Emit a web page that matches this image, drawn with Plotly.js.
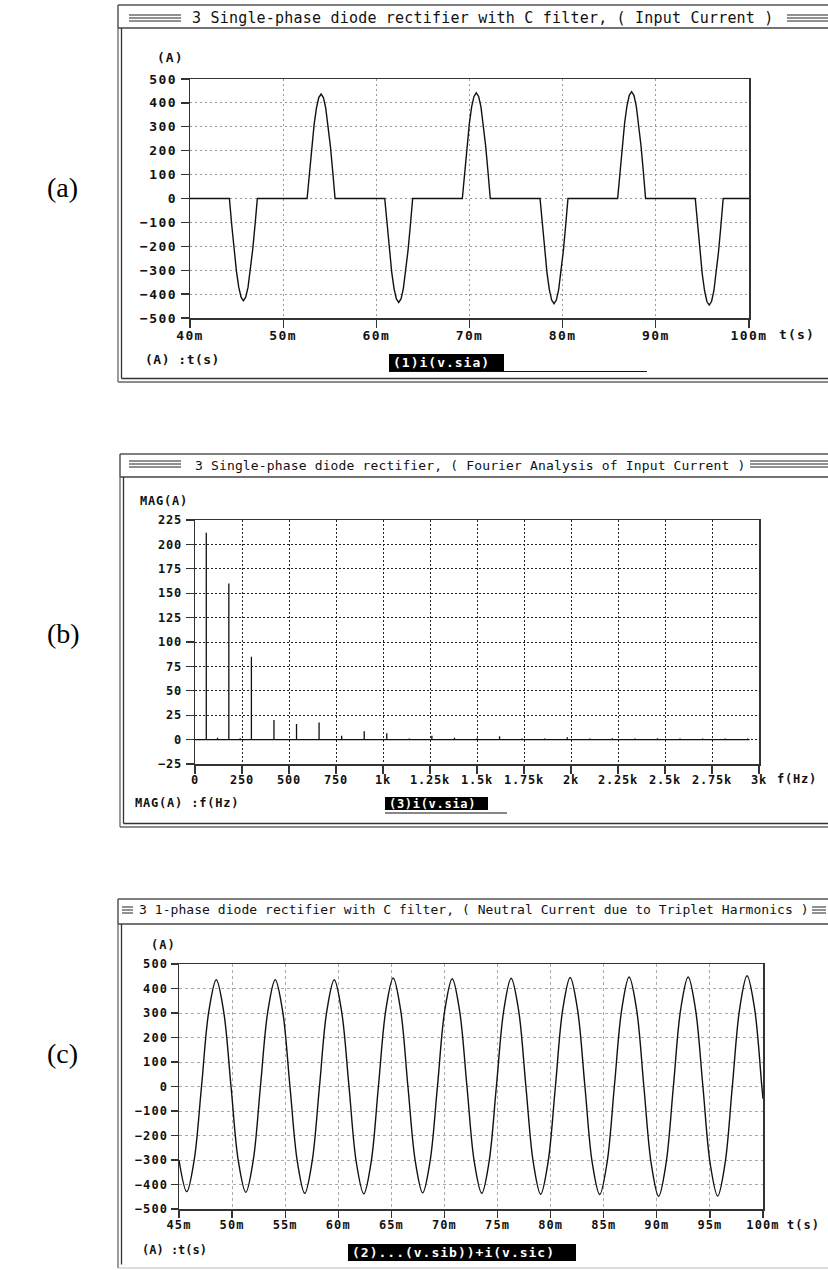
<!DOCTYPE html>
<html>
<head>
<meta charset="utf-8">
<script src="https://cdn.plot.ly/plotly-3.0.1.min.js"></script>
<style>
  html, body { margin: 0; padding: 0; background: #fff; }
  #chart { width: 828px; height: 1270px; }
  .xtick text, .ytick text { letter-spacing: 1.4px; }
  .x2tick text, .y2tick text { letter-spacing: 0.8px; }
  .x3tick text, .y3tick text { letter-spacing: 1.1px; }
</style>
</head>
<body>
<div id="chart"></div>
<script>
// (a) input current of phase a, time in ms, current in A
const tA = [40.00,
  44.23, 44.48, 44.73, 44.98, 45.23, 45.48, 45.73, 45.98, 46.23, 46.48, 46.73, 46.98, 47.23,
  52.57, 52.82, 53.07, 53.32, 53.57, 53.82, 54.07, 54.32, 54.57, 54.82, 55.07, 55.32, 55.57,
  60.90, 61.15, 61.40, 61.65, 61.90, 62.15, 62.40, 62.65, 62.90, 63.15, 63.40, 63.65, 63.90,
  69.23, 69.48, 69.73, 69.98, 70.23, 70.48, 70.73, 70.98, 71.23, 71.48, 71.73, 71.98, 72.23,
  77.57, 77.82, 78.07, 78.32, 78.57, 78.82, 79.07, 79.32, 79.57, 79.82, 80.07, 80.32, 80.57,
  85.90, 86.15, 86.40, 86.65, 86.90, 87.15, 87.40, 87.65, 87.90, 88.15, 88.40, 88.65, 88.90,
  94.23, 94.48, 94.73, 94.98, 95.23, 95.48, 95.73, 95.98, 96.23, 96.48, 96.73, 96.98, 97.23,
  100.00];
const iA = [0,
  0, -111, -214, -303, -371, -413, -428, -413, -371, -303, -214, -111, 0,
  0, 113, 219, 309, 378, 422, 437, 422, 378, 309, 219, 113, 0,
  0, -113, -218, -308, -377, -420, -435, -420, -377, -308, -218, -113, 0,
  0, 114, 221, 312, 383, 427, 442, 427, 383, 312, 221, 114, 0,
  0, -114, -220, -311, -381, -425, -440, -425, -381, -311, -220, -114, 0,
  0, 116, 224, 316, 387, 432, 447, 432, 387, 316, 224, 116, 0,
  0, -116, -223, -315, -386, -431, -446, -431, -386, -315, -223, -116, 0,
  0];

// (b) harmonic spectrum of the input current: frequency in Hz, magnitude in A
const fB = [60, 120, 180, 240, 300, 420, 540, 660, 780, 900, 1020, 1140, 1260, 1380,
  1500, 1620, 1740, 1860, 1980, 2100, 2220, 2340, 2460, 2580, 2700, 2820, 2940];
const magB = [212, 2, 160, 1.5, 85, 20, 16, 17.5, 4, 8.5, 6.5, 1, 4, 2,
  1.5, 3.5, 1, 1, 2.5, 1, 1.5, 1, 1.5, 1, 1, 1, 1];
const fTickVals = [0, 250, 500, 750, 1000, 1250, 1500, 1750, 2000, 2250, 2500, 2750, 3000];
const fTickText = ['0', '250', '500', '750', '1k', '1.25k', '1.5k', '1.75k', '2k', '2.25k', '2.5k', '2.75k', '3k'];

// (c) neutral current (sum of the three phase currents), time in ms, current in A
const tC = [45.00,
  45.73, 46.42, 47.12, 47.81, 48.51, 49.20, 49.90, 50.59,
  51.29, 51.98, 52.67, 53.37, 54.06, 54.76, 55.45, 56.15,
  56.84, 57.53, 58.23, 58.92, 59.62, 60.31, 61.01, 61.70,
  62.40, 63.09, 63.78, 64.48, 65.17, 65.87, 66.56, 67.26,
  67.95, 68.64, 69.34, 70.03, 70.73, 71.42, 72.12, 72.81,
  73.51, 74.20, 74.89, 75.59, 76.28, 76.98, 77.67, 78.37,
  79.06, 79.75, 80.45, 81.14, 81.84, 82.53, 83.23, 83.92,
  84.62, 85.31, 86.00, 86.70, 87.39, 88.09, 88.78, 89.48,
  90.17, 90.86, 91.56, 92.25, 92.95, 93.64, 94.34, 95.03,
  95.73, 96.42, 97.11, 97.81, 98.50, 99.20, 99.89,
  100.00];
const iC = [-300,
  -429, -303, 0, 308, 436, 308, 0, -305,
  -432, -305, 0, 308, 436, 308, 0, -308,
  -436, -308, 0, 308, 436, 308, 0, -310,
  -438, -310, 0, 313, 443, 313, 0, -307,
  -434, -307, 0, 311, 440, 311, 0, -308,
  -436, -308, 0, 312, 442, 312, 0, -311,
  -440, -311, 0, 315, 445, 315, 0, -312,
  -441, -312, 0, 316, 447, 316, 0, -317,
  -448, -317, 0, 316, 447, 316, 0, -316,
  -447, -316, 0, 320, 452, 320, 0,
  -50];

// ---------- page geometry helpers (pixels -> paper fractions) ----------
const W = 828, H = 1270;
const px = x => x / W;
const py = y => 1 - y / H;
const MONO = 'DejaVu Sans Mono';

function seg(x0, y0, x1, y1, color, width) {
  return { type: 'line', xref: 'paper', yref: 'paper', x0: px(x0), y0: py(y0), x1: px(x1), y1: py(y1),
    line: { color: color || '#444', width: width || 1.3 }, layer: 'above' };
}
function box(x0, y0, x1, y1, fill) {
  return { type: 'rect', xref: 'paper', yref: 'paper', x0: px(x0), y0: py(y0), x1: px(x1), y1: py(y1),
    fillcolor: fill, line: { width: 0 }, layer: 'above' };
}
function label(x, y, text, o) {
  o = o || {};
  const ls = o.ls != null ? o.ls : 0;
  return {
    xref: 'paper', yref: 'paper', x: px(x), y: py(y), showarrow: false,
    xanchor: o.xa || 'left', yanchor: 'middle',
    text: ls ? '<span style="letter-spacing:' + ls + 'px">' + text + '</span>' : text,
    font: { family: o.fam || MONO, size: o.size || 12, color: o.color || '#111', weight: o.weight || 'normal' }
  };
}

// Plot window frame: title bar, double left/bottom border, triple-line decorations
function frame(f) {
  const s = [];
  s.push(seg(f.left, f.top, W, f.top, '#555', 1.5));
  s.push(seg(f.left, f.top, f.left, f.bar, '#555', 1.5));
  s.push(seg(f.left, f.bar, W, f.bar, '#444', 1.3));
  s.push(seg(f.left, f.bar, f.left, f.bottom, '#666', 1.3));
  s.push(seg(f.left + 3.5, f.bar, f.left + 3.5, f.bottom - 3.5, '#333', 1.3));
  if (f.double) {
    s.push(seg(f.left, f.bottom, W, f.bottom, '#666', 1.3));
    s.push(seg(f.left + 3.5, f.bottom - 3.5, W, f.bottom - 3.5, '#333', 1.3));
  } else {
    s.push(seg(f.left, f.bottom, W, f.bottom, '#bbb', 1));
  }
  [-3, 0, 3].forEach(d => {
    s.push(seg(f.decoL[0], f.mid + d, f.decoL[1], f.mid + d, '#222', 1));
    s.push(seg(f.decoR[0], f.mid + d, f.decoR[1], f.mid + d, '#222', 1));
  });
  return s;
}

const shapes = []
  .concat(frame({ left: 118, top: 5, bar: 28, bottom: 382, double: true, mid: 18, decoL: [129, 181], decoR: [787, 828] }))
  .concat(frame({ left: 120, top: 454, bar: 477, bottom: 827, double: true, mid: 464, decoL: [129, 181], decoR: [750, 828] }))
  .concat(frame({ left: 118, top: 899, bar: 924, bottom: 1268, double: false, mid: 910, decoL: [122, 133], decoR: [812, 826] }));

// trace name tags (black boxes) and their underlines
shapes.push(box(389, 354, 504, 371, '#000'));
shapes.push(seg(389, 371.5, 647, 371.5, '#111', 1.2));
shapes.push(box(385, 797, 488, 810, '#000'));
shapes.push(seg(385, 813, 507, 813, '#111', 1.2));
shapes.push(box(348, 1244, 576, 1261, '#000'));

const annotations = [
  // panel captions
  label(62, 187, '(a)', { fam: 'Liberation Serif', size: 28, xa: 'center', color: '#000' }),
  label(63, 633, '(b)', { fam: 'Liberation Serif', size: 28, xa: 'center', color: '#000' }),
  label(62, 1053, '(c)', { fam: 'Liberation Serif', size: 28, xa: 'center', color: '#000' }),
  // window titles
  label(190, 18, '3 Single-phase diode rectifier with C filter, ( Input Current )', { size: 15, ls: 0.2 }),
  label(193, 465, '3 Single-phase diode rectifier, ( Fourier Analysis of Input Current )', { size: 13, ls: 0.15 }),
  label(137, 910, '3 1-phase diode rectifier with C filter, ( Neutral Current due to Triplet Harmonics )', { size: 13, ls: 0.05 }),
  // (a) axis captions
  label(170, 58, '(A)', { xa: 'center', weight: 'bold', size: 13, ls: 1.0 }),
  label(797, 335, 't(s)', { xa: 'center', weight: 'bold', size: 13, ls: 1.2 }),
  label(143, 360, '(A) :t(s)', { weight: 'bold', size: 13, ls: 0.5 }),
  label(391, 362.5, '(1)i(v.sia)', { weight: 'bold', size: 13, ls: 1.0, color: '#fff' }),
  // (b) axis captions
  label(138, 501, 'MAG(A)', { weight: 'bold', size: 12, ls: 0.8 }),
  label(797, 779, 'f(Hz)', { xa: 'center', weight: 'bold', size: 12, ls: 0.8 }),
  label(133, 803, 'MAG(A) :f(Hz)', { weight: 'bold', size: 12, ls: 0.8 }),
  label(387, 803.5, '(3)i(v.sia)', { weight: 'bold', size: 12, ls: 0.7, color: '#fff' }),
  // (c) axis captions
  label(163, 945, '(A)', { xa: 'center', weight: 'bold', size: 12, ls: 1.0 }),
  label(803, 1225, 't(s)', { xa: 'center', weight: 'bold', size: 12, ls: 1.0 }),
  label(140, 1250, '(A) :t(s)', { weight: 'bold', size: 12, ls: 0 }),
  label(350, 1252.5, '(2)...(v.sib))+i(v.sic)', { weight: 'bold', size: 13, ls: 1.0, color: '#fff' })
];

// ---------- axes ----------
const axBase = {
  showline: true, mirror: true, linecolor: '#333', linewidth: 1.5,
  ticks: 'outside', ticklen: 8, tickwidth: 1.3, tickcolor: '#333',
  showgrid: true, zeroline: false, fixedrange: true, gridwidth: 1
};
const tf = size => ({ family: MONO, size: size, weight: 'bold', color: '#111' });

const layout = {
  width: W, height: H,
  margin: { l: 0, r: 0, t: 0, b: 0, pad: 0 },
  paper_bgcolor: '#fff', plot_bgcolor: '#fff',
  showlegend: false,
  xaxis: Object.assign({}, axBase, {
    anchor: 'y', domain: [px(190), px(749)], range: [40, 100], tick0: 40, dtick: 10, ticksuffix: 'm',
    gridcolor: '#999', griddash: '2px,3px', tickfont: tf(13), ticklabelstandoff: -3
  }),
  yaxis: Object.assign({}, axBase, {
    anchor: 'x', domain: [py(318), py(79)], range: [-500, 500], tick0: 0, dtick: 100,
    gridcolor: '#999', griddash: '2px,3px', tickfont: tf(13), ticklabelstandoff: 1
  }),
  xaxis2: Object.assign({}, axBase, {
    anchor: 'y2', domain: [px(195), px(759)], range: [0, 3000], tickmode: 'array',
    tickvals: fTickVals, ticktext: fTickText,
    gridcolor: '#222', griddash: '2px,2px', tickfont: tf(12), ticklabelstandoff: -4
  }),
  yaxis2: Object.assign({}, axBase, {
    anchor: 'x2', domain: [py(764), py(520)], range: [-25, 225], tick0: 0, dtick: 25,
    gridcolor: '#222', griddash: '2px,2px', tickfont: tf(12), ticklabelstandoff: 1
  }),
  xaxis3: Object.assign({}, axBase, {
    anchor: 'y3', domain: [px(179), px(763)], range: [45, 100], tick0: 45, dtick: 5, ticksuffix: 'm',
    ticklen: 7, gridcolor: '#aaa', griddash: '3px,3px', tickfont: tf(12), ticklabelstandoff: -3
  }),
  yaxis3: Object.assign({}, axBase, {
    anchor: 'x3', domain: [py(1209), py(964)], range: [-500, 500], tick0: 0, dtick: 100,
    ticklen: 7, gridcolor: '#aaa', griddash: '3px,3px', tickfont: tf(12), ticklabelstandoff: 0
  }),
  shapes: shapes,
  annotations: annotations
};

// spectrum drawn as vertical spikes rising from a zero baseline
const stemX = [0], stemY = [0];
fB.forEach((f, i) => { stemX.push(f, f, f); stemY.push(0, magB[i], 0); });
stemX.push(2950); stemY.push(0);

const traces = [
  { x: tA, y: iA, xaxis: 'x', yaxis: 'y', type: 'scatter', mode: 'lines',
    line: { color: '#111', width: 1.4 }, name: 'i(v.sia)' },
  { x: stemX, y: stemY, xaxis: 'x2', yaxis: 'y2', type: 'scatter', mode: 'lines',
    line: { color: '#111', width: 1.3 }, name: 'MAG i(v.sia)' },
  { x: tC, y: iC, xaxis: 'x3', yaxis: 'y3', type: 'scatter', mode: 'lines',
    line: { color: '#111', width: 1.4, shape: 'spline', smoothing: 1 }, name: 'i(v.sia)+i(v.sib)+i(v.sic)' }
];

Plotly.newPlot('chart', traces, layout, { staticPlot: true, displayModeBar: false });
</script>
</body>
</html>
